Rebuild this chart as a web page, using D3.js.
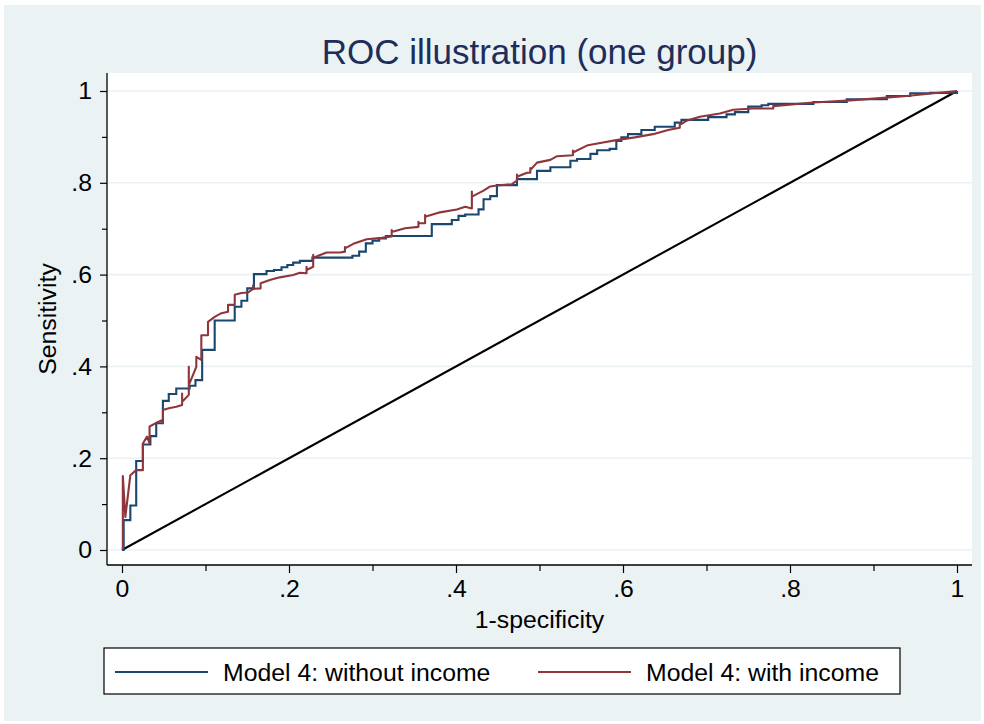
<!DOCTYPE html>
<html>
<head>
<meta charset="utf-8">
<script src="https://cdn.jsdelivr.net/npm/d3@7"></script>
<style>
  html, body { margin: 0; padding: 0; background: #ffffff; }
  svg { display: block; }
  text { font-family: "Liberation Sans", Arial, sans-serif; }
</style>
</head>
<body>
<svg id="chart" width="984" height="724"></svg>
<script>
// ---------------- DATA ----------------
const titleText = "ROC illustration (one group)";
const xTitle = "1-specificity";
const yTitle = "Sensitivity";
const seriesNames = ["Model 4: without income", "Model 4: with income"];
const majorTicks = [0, 0.2, 0.4, 0.6, 0.8, 1];
const tickLabels = ["0", ".2", ".4", ".6", ".8", "1"];
const minorTicks = [0.1, 0.3, 0.5, 0.7, 0.9];

// Model 4 without income: step ROC (fpr where the step happens, new sensitivity)
const withoutIncome = [
  [0,0],[0.002,0.065],[0.010,0.097],[0.017,0.194],[0.025,0.230],[0.034,0.248],
  [0.041,0.276],[0.049,0.325],[0.056,0.340],[0.065,0.352],[0.081,0.358],[0.088,0.370],
  [0.096,0.436],[0.111,0.500],[0.135,0.530],[0.143,0.543],[0.150,0.570],[0.158,0.601],
  [0.173,0.608],[0.182,0.610],[0.191,0.616],[0.198,0.621],[0.205,0.626],[0.213,0.630],
  [0.228,0.637],[0.276,0.641],[0.284,0.650],[0.292,0.668],[0.300,0.674],[0.308,0.679],
  [0.316,0.684],[0.371,0.710],[0.395,0.719],[0.403,0.728],[0.411,0.731],[0.427,0.742],
  [0.433,0.764],[0.441,0.771],[0.449,0.795],[0.473,0.808],[0.497,0.826],[0.513,0.834],
  [0.537,0.848],[0.545,0.852],[0.561,0.863],[0.569,0.871],[0.584,0.874],[0.592,0.891],
  [0.598,0.899],[0.606,0.906],[0.622,0.915],[0.638,0.922],[0.662,0.931],[0.670,0.937],
  [0.702,0.943],[0.724,0.949],[0.734,0.954],[0.750,0.966],[0.766,0.969],[0.774,0.972],
  [0.828,0.976],[0.868,0.982],[0.916,0.989],[0.944,0.995],[0.968,0.996],[1.000,1.000]
];

// Model 4 with income: connected ROC points (ties drawn as short vertical spikes)
const withIncome = [
  [0.001,0.000],[0.001,0.161],[0.004,0.072],[0.010,0.163],[0.017,0.174],
  [0.025,0.174],[0.025,0.232],[0.030,0.247],[0.033,0.232],[0.033,0.269],
  [0.040,0.276],[0.048,0.283],[0.049,0.277],[0.049,0.305],[0.056,0.309],
  [0.065,0.312],[0.072,0.316],[0.072,0.341],[0.072,0.323],
  [0.080,0.338],[0.080,0.399],[0.080,0.359],[0.089,0.399],[0.089,0.421],
  [0.095,0.414],[0.095,0.468],[0.103,0.468],[0.103,0.497],[0.111,0.508],
  [0.119,0.516],[0.127,0.519],[0.127,0.534],[0.135,0.534],[0.135,0.556],
  [0.143,0.560],[0.151,0.561],[0.157,0.569],[0.157,0.576],[0.157,0.569],
  [0.166,0.570],[0.166,0.581],[0.177,0.588],[0.189,0.594],[0.205,0.599],
  [0.213,0.604],[0.221,0.603],[0.221,0.617],[0.221,0.610],
  [0.229,0.617],[0.229,0.643],[0.229,0.636],[0.235,0.641],[0.245,0.648],
  [0.261,0.648],[0.267,0.650],[0.267,0.660],[0.267,0.657],[0.277,0.667],
  [0.285,0.672],[0.293,0.677],[0.311,0.680],[0.323,0.683],[0.323,0.697],
  [0.323,0.693],[0.339,0.701],[0.355,0.704],[0.355,0.715],[0.355,0.712],
  [0.363,0.712],[0.363,0.730],[0.363,0.726],[0.379,0.735],[0.401,0.742],
  [0.411,0.748],[0.419,0.744],[0.419,0.781],[0.419,0.770],[0.433,0.783],
  [0.441,0.792],[0.449,0.794],[0.467,0.797],[0.473,0.805],[0.473,0.818],
  [0.473,0.813],[0.485,0.822],[0.489,0.822],[0.489,0.832],[0.489,0.828],
  [0.497,0.844],[0.513,0.850],[0.521,0.858],[0.540,0.860],[0.540,0.870],
  [0.540,0.866],[0.558,0.882],[0.576,0.888],[0.592,0.893],[0.614,0.899],
  [0.636,0.906],[0.654,0.915],[0.668,0.920],[0.668,0.930],[0.668,0.926],
  [0.676,0.935],[0.692,0.944],[0.716,0.951],[0.732,0.959],[0.756,0.962],
  [0.780,0.962],[0.780,0.970],[0.780,0.967],[0.828,0.975],[0.868,0.979],
  [0.904,0.984],[0.940,0.989],[0.972,0.995],[1.000,1.000]
];

// Reference line
const diagonal = [[0,0],[1,1]];

// ---------------- DRAW ----------------
const colors = ["#1a476f", "#90353b"];
const bg = "#eaf2f3";
const svg = d3.select("#chart");

// outer background
svg.append("rect").attr("x", 4).attr("y", 5).attr("width", 977).attr("height", 716).attr("fill", bg);

// plot region
const plot = {left: 107, right: 972, top: 73, bottom: 565};
svg.append("rect").attr("x", plot.left).attr("y", plot.top)
  .attr("width", plot.right - plot.left).attr("height", plot.bottom - plot.top)
  .attr("fill", "#ffffff");

const x = d3.scaleLinear().domain([0, 1]).range([122, 957]);
const y = d3.scaleLinear().domain([0, 1]).range([550, 91]);

// gridlines
svg.append("g").selectAll("line").data(majorTicks).join("line")
  .attr("x1", plot.left).attr("x2", plot.right)
  .attr("y1", d => y(d)).attr("y2", d => y(d))
  .attr("stroke", bg).attr("stroke-width", 1.6);

// axes
const fontSize = 24.8;
const yAxis = d3.axisLeft(y).tickValues(majorTicks).tickSize(7).tickPadding(8)
  .tickFormat((d, i) => tickLabels[i]);
const gy = svg.append("g").attr("transform", `translate(${plot.left},0)`).call(yAxis);
gy.select(".domain").remove();
gy.selectAll("line").attr("stroke", "#000").attr("stroke-width", 1.2);
gy.selectAll("text").attr("font-size", fontSize).attr("fill", "#000")
  .attr("font-family", "Liberation Sans, Arial, sans-serif");
const gyMinor = svg.append("g").attr("transform", `translate(${plot.left},0)`)
  .call(d3.axisLeft(y).tickValues(minorTicks).tickSize(5).tickFormat(""));
gyMinor.select(".domain").remove();
gyMinor.selectAll("line").attr("stroke", "#000").attr("stroke-width", 1.2);

const xAxis = d3.axisBottom(x).tickValues(majorTicks).tickSize(8).tickPadding(6)
  .tickFormat((d, i) => tickLabels[i]);
const gx = svg.append("g").attr("transform", `translate(0,${plot.bottom})`).call(xAxis);
gx.select(".domain").remove();
gx.selectAll("line").attr("stroke", "#000").attr("stroke-width", 1.2);
gx.selectAll("text").attr("font-size", fontSize).attr("fill", "#000")
  .attr("font-family", "Liberation Sans, Arial, sans-serif");
const gxMinor = svg.append("g").attr("transform", `translate(0,${plot.bottom})`)
  .call(d3.axisBottom(x).tickValues(minorTicks).tickSize(6).tickFormat(""));
gxMinor.select(".domain").remove();
gxMinor.selectAll("line").attr("stroke", "#000").attr("stroke-width", 1.2);

// axis lines
svg.append("line").attr("x1", plot.left).attr("x2", plot.left)
  .attr("y1", plot.top).attr("y2", plot.bottom).attr("stroke", "#000").attr("stroke-width", 1.3);
svg.append("line").attr("x1", plot.left).attr("x2", plot.right)
  .attr("y1", plot.bottom).attr("y2", plot.bottom).attr("stroke", "#000").attr("stroke-width", 1.3);

// curves
const stepLine = d3.line().x(d => x(d[0])).y(d => y(d[1])).curve(d3.curveStepAfter);
const polyLine = d3.line().x(d => x(d[0])).y(d => y(d[1]));

svg.append("path").datum(diagonal).attr("d", polyLine)
  .attr("fill", "none").attr("stroke", "#000").attr("stroke-width", 2.1);
svg.append("path").datum(withoutIncome).attr("d", stepLine)
  .attr("fill", "none").attr("stroke", colors[0]).attr("stroke-width", 2.1)
  .attr("stroke-linejoin", "miter");
svg.append("path").datum(withIncome).attr("d", polyLine)
  .attr("fill", "none").attr("stroke", colors[1]).attr("stroke-width", 2.1)
  .attr("stroke-linejoin", "round");

// titles
const cx = (plot.left + plot.right) / 2;
svg.append("text").attr("x", cx).attr("y", 64).attr("text-anchor", "middle")
  .attr("font-size", 35).attr("fill", "#1e2d5a").text(titleText);
svg.append("text").attr("x", cx).attr("y", 628).attr("text-anchor", "middle")
  .attr("font-size", fontSize).attr("fill", "#000").text(xTitle);
svg.append("text").attr("transform", `translate(56,${(plot.top + plot.bottom) / 2}) rotate(-90)`)
  .attr("text-anchor", "middle").attr("font-size", fontSize).attr("fill", "#000").text(yTitle);

// legend
const legend = svg.append("g");
legend.append("rect").attr("x", 104).attr("y", 648).attr("width", 796).attr("height", 46)
  .attr("fill", "#fff").attr("stroke", "#000").attr("stroke-width", 1.2);
const legX = [115, 538];
seriesNames.forEach((name, i) => {
  legend.append("line").attr("x1", legX[i]).attr("x2", legX[i] + 93)
    .attr("y1", 672).attr("y2", 672).attr("stroke", colors[i]).attr("stroke-width", 2);
  legend.append("text").attr("x", legX[i] + 108).attr("y", 681)
    .attr("font-size", fontSize).attr("fill", "#000").text(name);
});
</script>
</body>
</html>
